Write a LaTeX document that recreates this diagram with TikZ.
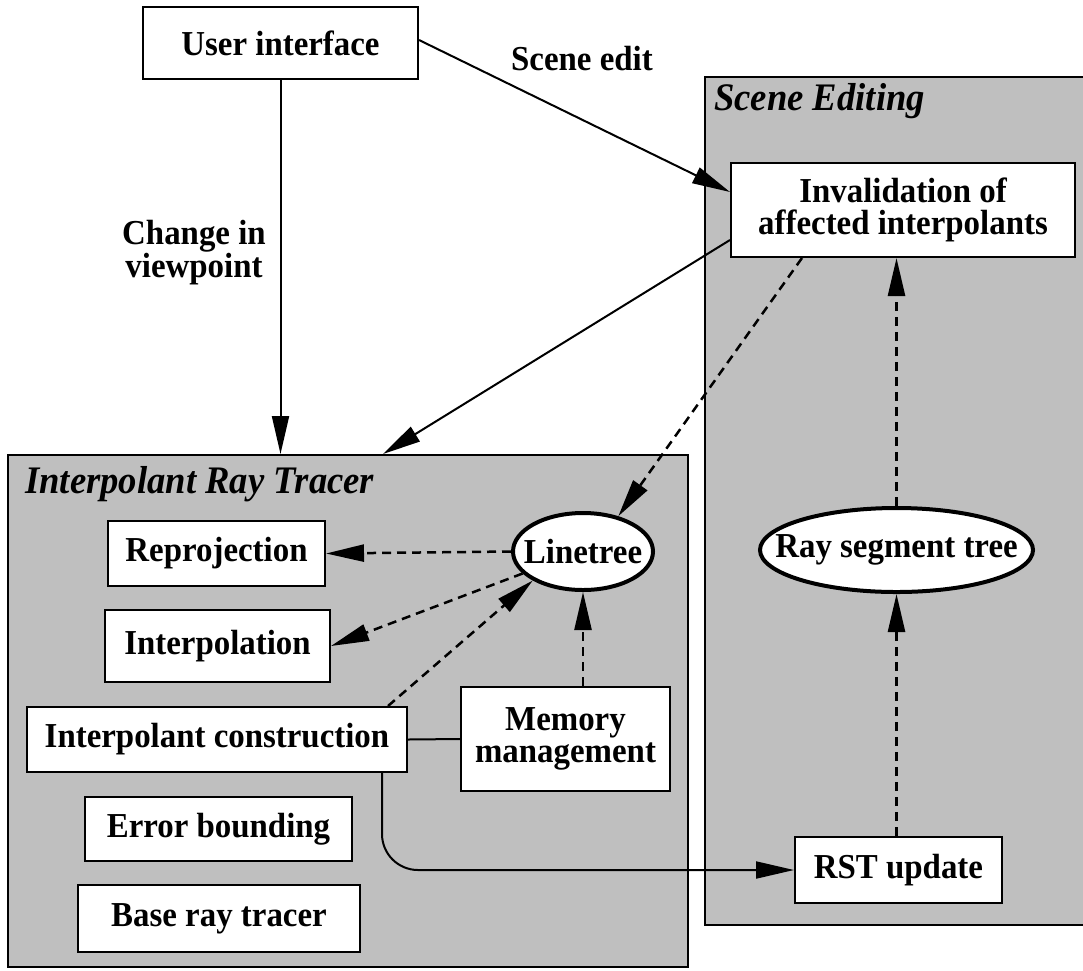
\documentclass[tikz,border=0pt]{standalone}
\usepackage{fontspec}
\setmainfont{Liberation Serif}[FakeStretch=0.94]
\usetikzlibrary{arrows.meta,shapes.geometric}
\begin{document}
\begin{tikzpicture}[x=1pt,y=-1pt,
  box/.style={draw, line width=2pt, fill=white, inner sep=0pt, align=center, font=\bfseries\fontsize{35}{32}\selectfont},
  oval/.style={ellipse, draw, line width=4pt, fill=white, inner xsep=-40pt, inner ysep=0pt, font=\bfseries\fontsize{35}{32}\selectfont},
  panel/.style={draw, line width=2pt, fill=black!25, inner sep=0pt},
  ptitle/.style={anchor=base west, inner sep=0pt, font=\bfseries\itshape\fontsize{39}{40}\selectfont},
  lbl/.style={inner sep=0pt, align=center, font=\bfseries\fontsize{35}{32}\selectfont},
  conn/.style={line width=2pt},
  dconn/.style={line width=2.5pt, dash pattern=on 9pt off 6pt},
  arr/.style={-{Triangle[length=38pt,width=17pt]}}
]
\useasboundingbox (0,0) rectangle (1083,970);
\fill[white] (0,0) rectangle (1083,970);

% panels
\node[panel, minimum width=680pt, minimum height=512pt] (irt) at (348,711) {};
\node[panel, minimum width=385pt, minimum height=848pt] (se) at (897.5,501) {};
\node[ptitle] (irtT) at (25,493) {Interpolant Ray Tracer};
\node[ptitle] (seT) at (714,110) {Scene Editing};

% nodes
\node[box, minimum width=275pt, minimum height=72pt] (ui) at (280.5,43) {User interface};
\node[box, minimum width=344pt, minimum height=94pt] (inv) at (903,210) {Invalidation of\\affected interpolants};
\node[box, minimum width=217pt, minimum height=65pt] (rep) at (216.5,553.5) {Reprojection};
\node[box, minimum width=225pt, minimum height=72pt] (interp) at (217.5,646) {Interpolation};
\node[box, minimum width=380pt, minimum height=65pt] (cons) at (217,739.5) {Interpolant construction};
\node[box, minimum width=209pt, minimum height=104pt] (mem) at (565.5,739) {Memory\\management};
\node[box, minimum width=267pt, minimum height=64pt] (err) at (218.5,829) {Error bounding};
\node[box, minimum width=282pt, minimum height=67pt] (base) at (219,918.5) {Base ray tracer};
\node[oval, minimum width=140pt, minimum height=77pt] (lt) at (583,551.5) {Linetree};
\node[oval, minimum width=273pt, minimum height=84pt] (rst) at (896.5,550) {Ray segment tree};
\node[box, minimum width=207pt, minimum height=66pt] (rstu) at (898.5,870) {RST update};

% labels
\node[lbl, anchor=base] (sceneedit) at (582,70) {Scene edit};
\node[lbl] (civ) at (194,253) {Change in\\viewpoint};

% connectors
\draw[conn, arr] (ui.south) -- (ui.south |- irt.north);
\draw[conn, arr] ([yshift=3pt]ui.east) -- ([yshift=18pt]inv.west);
\draw[conn, arr] ([yshift=-30pt]inv.west) -- ([xshift=35pt]irt.north);
\draw[dconn, arr] ([xshift=-101pt]inv.south) -- (lt.45);
\draw[dconn, arr] (lt.west) -- (rep.east);
\draw[dconn, arr] (lt.200) -- (interp.east);
\draw[dconn, arr] ([xshift=-20pt]cons.north east) -- (lt.210);
\draw[dconn, arr] (lt.south |- mem.north) -- (lt.south);
\draw[conn] (cons.east) -- (mem.west);
\draw[conn, arr, rounded corners=36pt] ([xshift=-26pt]cons.south east) |- (rstu.west);
\draw[dconn, arr] (rst.north) -- (rst.north |- inv.south);
\draw[dconn, arr] (rst.south |- rstu.north) -- (rst.south);
\end{tikzpicture}
\end{document}
